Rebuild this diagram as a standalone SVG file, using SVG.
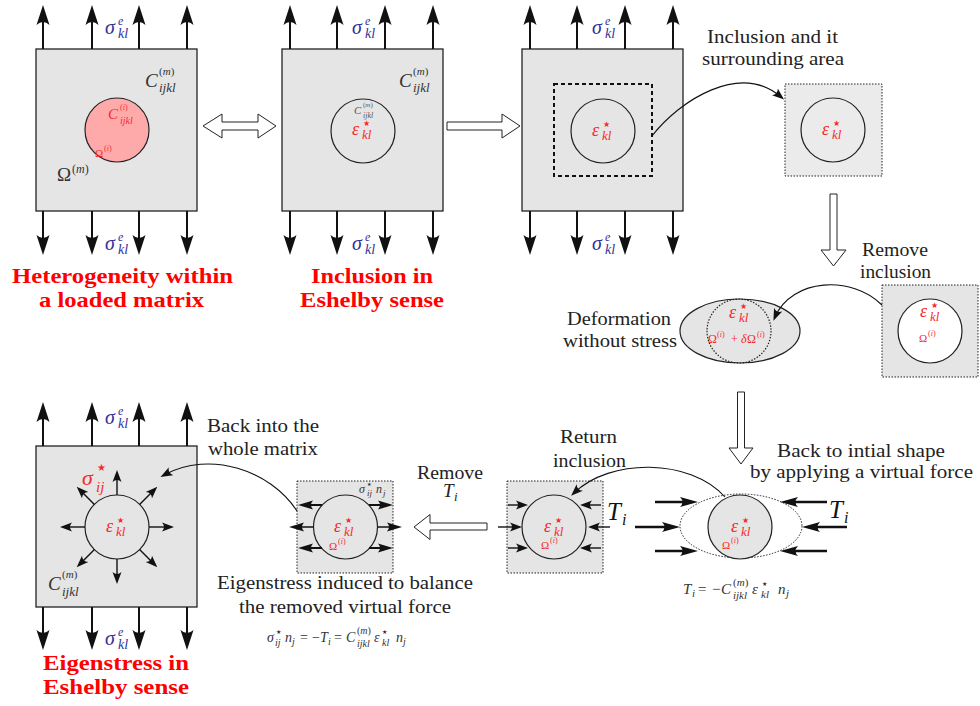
<svg xmlns="http://www.w3.org/2000/svg" width="980" height="706" viewBox="0 0 980 706" font-family="'Liberation Serif','Times New Roman',serif">
<style>
text{font-family:'Liberation Serif','Times New Roman',serif}
.t{fill:#222}
.m{font-style:italic}
.u{font-style:normal}
.r{fill:#f52a2a}
.b{fill:#33339a}
.g{fill:#333}
.g5{fill:#555}
.ttl{font-weight:bold;fill:#ff0000;font-size:21px}
.sq{fill:#e5e5e5;stroke:#222;stroke-width:1.3}
.c{fill:none;stroke:#222;stroke-width:1.2}
.fa{stroke:#111;stroke-width:2;marker-end:url(#fa)}
.ta{stroke:#111;stroke-width:2.5;marker-end:url(#ta)}
.sa{stroke:#111;stroke-width:1.4;marker-end:url(#sa)}
.ea{stroke:#111;stroke-width:2;marker-end:url(#ea)}
.hol{fill:#fff;stroke:#222;stroke-width:1}
.cv{fill:none;stroke:#111;stroke-width:1.1;marker-end:url(#ca)}
.dot{stroke-dasharray:1.5 1.5}
tspan.star{font-family:'DejaVu Sans',sans-serif;font-style:normal}
</style>
<defs>
<marker id="fa" viewBox="0 -7 20 14" refX="12" refY="0" markerWidth="20" markerHeight="14" markerUnits="userSpaceOnUse" orient="auto"><path d="M20,0 L0,-6.5 Q6,0 0,6.5 Z" fill="#111"/></marker>
<marker id="ta" viewBox="0 -6 18 12" refX="10" refY="0" markerWidth="18" markerHeight="12" markerUnits="userSpaceOnUse" orient="auto"><path d="M18,0 L0,-5 Q5,0 0,5 Z" fill="#111"/></marker>
<marker id="ea" viewBox="0 -6 15 12" refX="9" refY="0" markerWidth="15" markerHeight="12" markerUnits="userSpaceOnUse" orient="auto"><path d="M15,0 L0,-4.5 Q4,0 0,4.5 Z" fill="#111"/></marker>
<marker id="sa" viewBox="0 -5 12 10" refX="8" refY="0" markerWidth="12" markerHeight="10" markerUnits="userSpaceOnUse" orient="auto"><path d="M12,0 L0,-4.5 Q4,0 0,4.5 Z" fill="#111"/></marker>
<marker id="ca" viewBox="0 -5 12 10" refX="8" refY="0" markerWidth="12" markerHeight="10" markerUnits="userSpaceOnUse" orient="auto"><path d="M12,0 L0,-4.5 Q4,0 0,4.5 Z" fill="#111"/></marker>
</defs>
<rect width="980" height="706" fill="#fff"/>

<!-- Panel 1 -->
<g id="panel1">
<rect class="sq" x="36" y="49" width="161" height="162"/>
<circle cx="117" cy="130" r="32" fill="#ffaaaa" stroke="#222" stroke-width="1.2"/>
<line class="fa" x1="43" y1="49" x2="43" y2="13"/><line class="fa" x1="92" y1="49" x2="92" y2="13"/><line class="fa" x1="139" y1="49" x2="139" y2="13"/><line class="fa" x1="187" y1="49" x2="187" y2="13"/>
<line class="fa" x1="43" y1="211" x2="43" y2="247"/><line class="fa" x1="92" y1="211" x2="92" y2="247"/><line class="fa" x1="139" y1="211" x2="139" y2="247"/><line class="fa" x1="187" y1="211" x2="187" y2="247"/>
<text class="m b"><tspan x="105" y="34" font-size="20">σ</tspan><tspan x="118" y="25" font-size="12">e</tspan><tspan x="118" y="38" font-size="14">kl</tspan></text>
<text class="m b"><tspan x="105" y="250" font-size="20">σ</tspan><tspan x="118" y="241" font-size="12">e</tspan><tspan x="118" y="254" font-size="14">kl</tspan></text>
<text class="m g"><tspan x="145" y="87" font-size="19">C</tspan><tspan class="u" x="159" y="75" font-size="11">(</tspan><tspan font-size="11">m</tspan><tspan class="u" font-size="11">)</tspan><tspan x="159" y="92" font-size="13">ijkl</tspan></text>
<text class="m r"><tspan x="108" y="119" font-size="15">C</tspan><tspan class="u" x="120" y="110" font-size="8">(</tspan><tspan font-size="8">i</tspan><tspan class="u" font-size="8">)</tspan><tspan x="120" y="124" font-size="10">ijkl</tspan></text>
<text class="t r"><tspan x="95" y="157" font-size="11">Ω</tspan><tspan x="104" y="151" font-size="8">(</tspan><tspan class="m" font-size="8">i</tspan><tspan font-size="8">)</tspan></text>
<text class="t g"><tspan x="57" y="181" font-size="19">Ω</tspan><tspan x="72" y="173" font-size="12">(</tspan><tspan class="m" font-size="12">m</tspan><tspan font-size="12">)</tspan></text>
<text class="ttl" x="12" y="283" textLength="221" lengthAdjust="spacingAndGlyphs">Heterogeneity within</text>
<text class="ttl" x="39" y="307" textLength="165" lengthAdjust="spacingAndGlyphs">a loaded matrix</text>
</g>

<!-- Panel 2 -->
<g id="panel2">
<rect class="sq" x="282" y="49" width="161" height="162"/>
<circle class="c" cx="363" cy="131" r="32"/>
<line class="fa" x1="290" y1="49" x2="290" y2="13"/><line class="fa" x1="337" y1="49" x2="337" y2="13"/><line class="fa" x1="385" y1="49" x2="385" y2="13"/><line class="fa" x1="433" y1="49" x2="433" y2="13"/>
<line class="fa" x1="290" y1="211" x2="290" y2="247"/><line class="fa" x1="337" y1="211" x2="337" y2="247"/><line class="fa" x1="385" y1="211" x2="385" y2="247"/><line class="fa" x1="433" y1="211" x2="433" y2="247"/>
<text class="m b"><tspan x="352" y="34" font-size="20">σ</tspan><tspan x="365" y="25" font-size="12">e</tspan><tspan x="365" y="38" font-size="14">kl</tspan></text>
<text class="m b"><tspan x="352" y="250" font-size="20">σ</tspan><tspan x="365" y="241" font-size="12">e</tspan><tspan x="365" y="254" font-size="14">kl</tspan></text>
<text class="m g"><tspan x="399" y="87" font-size="19">C</tspan><tspan class="u" x="413" y="75" font-size="11">(</tspan><tspan font-size="11">m</tspan><tspan class="u" font-size="11">)</tspan><tspan x="413" y="92" font-size="13">ijkl</tspan></text>
<text class="m g5"><tspan x="354" y="114" font-size="11">C</tspan><tspan class="u" x="363" y="107" font-size="7">(</tspan><tspan font-size="7">m</tspan><tspan class="u" font-size="7">)</tspan><tspan x="363" y="118" font-size="8">ijkl</tspan></text>
<text class="m r"><tspan x="352" y="135" font-size="18">ε</tspan><tspan class="star" x="363" y="126" font-size="8">★</tspan><tspan x="362" y="139" font-size="13">kl</tspan></text>
<text class="ttl" x="311" y="283" textLength="122" lengthAdjust="spacingAndGlyphs">Inclusion in</text>
<text class="ttl" x="300" y="307" textLength="144" lengthAdjust="spacingAndGlyphs">Eshelby sense</text>
</g>

<!-- Panel 3 -->
<g id="panel3">
<rect class="sq" x="522" y="49" width="161" height="162"/>
<rect x="554" y="84" width="98" height="92" fill="none" stroke="#111" stroke-width="2" stroke-dasharray="4 3"/>
<circle class="c" cx="603" cy="131" r="32"/>
<line class="fa" x1="530" y1="49" x2="530" y2="13"/><line class="fa" x1="577" y1="49" x2="577" y2="13"/><line class="fa" x1="625" y1="49" x2="625" y2="13"/><line class="fa" x1="673" y1="49" x2="673" y2="13"/>
<line class="fa" x1="530" y1="211" x2="530" y2="247"/><line class="fa" x1="577" y1="211" x2="577" y2="247"/><line class="fa" x1="625" y1="211" x2="625" y2="247"/><line class="fa" x1="673" y1="211" x2="673" y2="247"/>
<text class="m b"><tspan x="592" y="34" font-size="20">σ</tspan><tspan x="605" y="25" font-size="12">e</tspan><tspan x="605" y="38" font-size="14">kl</tspan></text>
<text class="m b"><tspan x="592" y="250" font-size="20">σ</tspan><tspan x="605" y="241" font-size="12">e</tspan><tspan x="605" y="254" font-size="14">kl</tspan></text>
<text class="m r"><tspan x="592" y="136" font-size="18">ε</tspan><tspan class="star" x="603" y="127" font-size="8">★</tspan><tspan x="602" y="140" font-size="13">kl</tspan></text>
</g>

<!-- Surrounding area box -->
<g id="surround">
<rect class="dot" x="785" y="84" width="97" height="92" fill="#ebebeb" stroke="#222" stroke-width="1"/>
<circle class="c" cx="833" cy="130" r="32"/>
<text class="m r"><tspan x="822" y="135" font-size="18">ε</tspan><tspan class="star" x="833" y="126" font-size="8">★</tspan><tspan x="832" y="139" font-size="13">kl</tspan></text>
<text class="t" x="707" y="43" font-size="18" textLength="131" lengthAdjust="spacingAndGlyphs">Inclusion and it</text>
<text class="t" x="702" y="65" font-size="18" textLength="142" lengthAdjust="spacingAndGlyphs">surrounding area</text>
</g>

<!-- Removed inclusion box -->
<g id="removebox">
<rect class="dot" x="882" y="285" width="96" height="92" fill="#e5e5e5" stroke="#222" stroke-width="1"/>
<circle cx="930" cy="331" r="32" fill="#fff" stroke="#222" stroke-width="1.2"/>
<text class="m r"><tspan x="920" y="317" font-size="18">ε</tspan><tspan class="star" x="931" y="308" font-size="8">★</tspan><tspan x="930" y="321" font-size="13">kl</tspan></text>
<text class="t r"><tspan x="919" y="342" font-size="11">Ω</tspan><tspan x="928" y="336" font-size="8">(</tspan><tspan class="m" font-size="8">i</tspan><tspan font-size="8">)</tspan></text>
<text class="t" x="862" y="256" font-size="18" textLength="66" lengthAdjust="spacingAndGlyphs">Remove</text>
<text class="t" x="860" y="278" font-size="18" textLength="71" lengthAdjust="spacingAndGlyphs">inclusion</text>
</g>

<!-- Deformation without stress -->
<g id="deform">
<ellipse cx="740" cy="331" rx="60" ry="32" fill="#e5e5e5" stroke="#222" stroke-width="1.2"/>
<circle class="c dot" cx="739" cy="331" r="32"/>
<text class="m r"><tspan x="729" y="318" font-size="18">ε</tspan><tspan class="star" x="740" y="309" font-size="8">★</tspan><tspan x="739" y="322" font-size="13">kl</tspan></text>
<text class="t r"><tspan x="708" y="343" font-size="12">Ω</tspan><tspan x="717" y="337" font-size="8">(</tspan><tspan class="m" font-size="8">i</tspan><tspan font-size="8">)</tspan><tspan x="731" y="343" font-size="12">+</tspan><tspan class="m" x="741" y="343" font-size="12">δ</tspan><tspan x="747" y="343" font-size="12">Ω</tspan><tspan x="757" y="337" font-size="8">(</tspan><tspan class="m" font-size="8">i</tspan><tspan font-size="8">)</tspan></text>
<text class="t" x="567" y="325" font-size="18" textLength="104" lengthAdjust="spacingAndGlyphs">Deformation</text>
<text class="t" x="563" y="347" font-size="18" textLength="114" lengthAdjust="spacingAndGlyphs">without stress</text>
</g>

<!-- Virtual force -->
<g id="virtualforce">
<ellipse class="dot" cx="741" cy="526" rx="61" ry="32" fill="#fff" stroke="#222" stroke-width="1"/>
<circle cx="740" cy="527" r="32" fill="#e5e5e5" stroke="#222" stroke-width="1.2"/>
<line class="ta" x1="655" y1="502" x2="690" y2="502"/><line class="ta" x1="635" y1="527" x2="672" y2="527"/><line class="ta" x1="655" y1="551" x2="690" y2="551"/>
<line class="ta" x1="827" y1="502" x2="788" y2="502"/><line class="ta" x1="847" y1="527" x2="810" y2="527"/><line class="ta" x1="827" y1="551" x2="788" y2="551"/>
<text class="m r"><tspan x="731" y="532" font-size="18">ε</tspan><tspan class="star" x="742" y="523" font-size="8">★</tspan><tspan x="741" y="536" font-size="13">kl</tspan></text>
<text class="t r"><tspan x="722" y="549" font-size="11">Ω</tspan><tspan x="731" y="543" font-size="8">(</tspan><tspan class="m" font-size="8">i</tspan><tspan font-size="8">)</tspan></text>
<text class="m" fill="#111"><tspan x="829" y="518" font-size="25">T</tspan><tspan x="844" y="523" font-size="16">i</tspan></text>
<text class="t" x="777" y="457" font-size="18" textLength="168" lengthAdjust="spacingAndGlyphs">Back to intial shape</text>
<text class="t" x="750" y="478" font-size="18" textLength="223" lengthAdjust="spacingAndGlyphs">by applying a virtual force</text>
<text class="m g"><tspan x="683" y="594" font-size="15">T</tspan><tspan x="692" y="597" font-size="11">i</tspan><tspan class="u" x="698" y="594" font-size="15">=</tspan><tspan class="u" x="712" y="594" font-size="15">−</tspan><tspan x="721" y="594" font-size="15">C</tspan><tspan class="u" x="733" y="586" font-size="11">(</tspan><tspan font-size="11">m</tspan><tspan class="u" font-size="11">)</tspan><tspan x="733" y="599" font-size="11">ijkl</tspan><tspan x="752" y="594" font-size="15">ε</tspan><tspan class="star" x="762" y="586" font-size="6">★</tspan><tspan x="761" y="598" font-size="11">kl</tspan><tspan x="778" y="594" font-size="15">n</tspan><tspan x="786" y="597" font-size="11">j</tspan></text>
</g>

<!-- Return inclusion box -->
<g id="returnbox">
<rect class="dot" x="507" y="481" width="96" height="92" fill="#e5e5e5" stroke="#222" stroke-width="1"/>
<circle class="c" cx="554" cy="527" r="32"/>
<line class="sa" x1="508" y1="505" x2="524" y2="505"/><line class="sa" x1="498" y1="527" x2="518" y2="527"/><line class="sa" x1="508" y1="548" x2="524" y2="548"/>
<line class="sa" x1="601" y1="505" x2="584" y2="505"/><line class="sa" x1="610" y1="527" x2="592" y2="527"/><line class="sa" x1="601" y1="548" x2="584" y2="548"/>
<text class="m r"><tspan x="544" y="532" font-size="18">ε</tspan><tspan class="star" x="555" y="523" font-size="8">★</tspan><tspan x="554" y="536" font-size="13">kl</tspan></text>
<text class="t r"><tspan x="541" y="549" font-size="11">Ω</tspan><tspan x="550" y="543" font-size="8">(</tspan><tspan class="m" font-size="8">i</tspan><tspan font-size="8">)</tspan></text>
<text class="m" fill="#111"><tspan x="607" y="520" font-size="25">T</tspan><tspan x="622" y="525" font-size="16">i</tspan></text>
<text class="t" x="560" y="443" font-size="18" textLength="57" lengthAdjust="spacingAndGlyphs">Return</text>
<text class="t" x="553" y="467" font-size="18" textLength="73" lengthAdjust="spacingAndGlyphs">inclusion</text>
</g>

<!-- Eigenstress box -->
<g id="eigenbox">
<rect class="dot" x="297" y="481" width="96" height="92" fill="#e5e5e5" stroke="#222" stroke-width="1"/>
<circle class="c" cx="345.5" cy="527" r="32"/>
<line class="ea" x1="322" y1="505" x2="304" y2="505"/><line class="ea" x1="369" y1="505" x2="387" y2="505"/>
<line class="ea" x1="313" y1="527" x2="295" y2="527" style="stroke-width:1.5"/><line class="ea" x1="378" y1="527" x2="396" y2="527" style="stroke-width:1.5"/>
<line class="ea" x1="322" y1="548" x2="304" y2="548"/><line class="ea" x1="369" y1="548" x2="387" y2="548"/>
<text class="m r"><tspan x="334" y="532" font-size="18">ε</tspan><tspan class="star" x="345" y="523" font-size="8">★</tspan><tspan x="344" y="536" font-size="13">kl</tspan></text>
<text class="t r"><tspan x="329" y="550" font-size="11">Ω</tspan><tspan x="338" y="544" font-size="8">(</tspan><tspan class="m" font-size="8">i</tspan><tspan font-size="8">)</tspan></text>
<text class="m g"><tspan x="359" y="493" font-size="12">σ</tspan><tspan class="star" x="367" y="486" font-size="5">★</tspan><tspan x="367" y="496" font-size="9">ij</tspan><tspan x="376" y="493" font-size="12">n</tspan><tspan x="383" y="496" font-size="9">j</tspan></text>
<text class="t" x="417" y="479" font-size="18" textLength="66" lengthAdjust="spacingAndGlyphs">Remove</text>
<text class="m" fill="#222"><tspan x="443" y="497" font-size="19">T</tspan><tspan x="454" y="501" font-size="13">i</tspan></text>
<text class="t" x="217" y="589" font-size="18" textLength="256" lengthAdjust="spacingAndGlyphs">Eigenstress induced to balance</text>
<text class="t" x="239" y="613" font-size="18" textLength="212" lengthAdjust="spacingAndGlyphs">the removed virtual force</text>
<text class="m g"><tspan x="267" y="642" font-size="14">σ</tspan><tspan class="star" x="276" y="634" font-size="6">★</tspan><tspan x="275" y="646" font-size="10">ij</tspan><tspan x="285" y="642" font-size="14">n</tspan><tspan x="292" y="645" font-size="10">j</tspan><tspan class="u" x="300" y="642" font-size="14">=</tspan><tspan class="u" x="312" y="642" font-size="14">−</tspan><tspan x="320" y="642" font-size="14">T</tspan><tspan x="328" y="645" font-size="10">i</tspan><tspan class="u" x="334" y="642" font-size="14">=</tspan><tspan x="346" y="642" font-size="14">C</tspan><tspan class="u" x="357" y="634" font-size="10">(</tspan><tspan font-size="10">m</tspan><tspan class="u" font-size="10">)</tspan><tspan x="357" y="647" font-size="10">ijkl</tspan><tspan x="374" y="642" font-size="14">ε</tspan><tspan class="star" x="382" y="634" font-size="6">★</tspan><tspan x="382" y="646" font-size="10">kl</tspan><tspan x="396" y="642" font-size="14">n</tspan><tspan x="403" y="645" font-size="10">j</tspan></text>
<text class="t" x="207" y="432" font-size="18" textLength="112" lengthAdjust="spacingAndGlyphs">Back into the</text>
<text class="t" x="208" y="455" font-size="18" textLength="110" lengthAdjust="spacingAndGlyphs">whole matrix</text>
</g>

<!-- Panel 4 -->
<g id="panel4">
<rect class="sq" x="36" y="446" width="161" height="161"/>
<circle class="c" cx="117" cy="527" r="32"/>
<line class="fa" x1="43" y1="446" x2="43" y2="410"/><line class="fa" x1="92" y1="446" x2="92" y2="410"/><line class="fa" x1="139" y1="446" x2="139" y2="410"/><line class="fa" x1="187" y1="446" x2="187" y2="410"/>
<line class="fa" x1="43" y1="607" x2="43" y2="642"/><line class="fa" x1="92" y1="607" x2="92" y2="642"/><line class="fa" x1="139" y1="607" x2="139" y2="642"/><line class="fa" x1="187" y1="607" x2="187" y2="642"/>
<line class="sa" x1="149" y1="527" x2="170" y2="527"/><line class="sa" x1="139.6" y1="549.6" x2="154.5" y2="564.5"/><line class="sa" x1="117" y1="559" x2="117" y2="580"/><line class="sa" x1="94.4" y1="549.6" x2="79.5" y2="564.5"/>
<line class="sa" x1="85" y1="527" x2="64" y2="527"/><line class="sa" x1="94.4" y1="504.4" x2="79.5" y2="489.5"/><line class="sa" x1="117" y1="495" x2="117" y2="474"/><line class="sa" x1="139.6" y1="504.4" x2="154.5" y2="489.5"/>
<text class="m b"><tspan x="105" y="424" font-size="20">σ</tspan><tspan x="118" y="415" font-size="12">e</tspan><tspan x="118" y="428" font-size="14">kl</tspan></text>
<text class="m b"><tspan x="105" y="645" font-size="20">σ</tspan><tspan x="118" y="636" font-size="12">e</tspan><tspan x="118" y="649" font-size="14">kl</tspan></text>
<text class="m r"><tspan x="82" y="485" font-size="22">σ</tspan><tspan class="star" x="97" y="471" font-size="10">★</tspan><tspan x="96" y="492" font-size="15">ij</tspan></text>
<text class="m r"><tspan x="106" y="532" font-size="18">ε</tspan><tspan class="star" x="117" y="523" font-size="8">★</tspan><tspan x="116" y="536" font-size="13">kl</tspan></text>
<text class="m g"><tspan x="48" y="590" font-size="19">C</tspan><tspan class="u" x="62" y="578" font-size="11">(</tspan><tspan font-size="11">m</tspan><tspan class="u" font-size="11">)</tspan><tspan x="62" y="596" font-size="13">ijkl</tspan></text>
<text class="ttl" x="43" y="670" textLength="146" lengthAdjust="spacingAndGlyphs">Eigenstress in</text>
<text class="ttl" x="43" y="694" textLength="146" lengthAdjust="spacingAndGlyphs">Eshelby sense</text>
</g>

<!-- Connectors -->
<g id="connectors">
<polygon class="hol" points="203,126 222,114 222,122 258,122 258,114 276,126 258,138 258,130 222,130 222,138"/>
<polygon class="hol" points="447,122 502,122 502,114 520,126 502,138 502,130 447,130"/>
<polygon class="hol" points="830,194 837,194 837,250 846,250 833.5,266 821,250 830,250"/>
<polygon class="hol" points="737.5,392 744.5,392 744.5,448 753,448 741,464 729,448 737.5,448"/>
<polygon class="hol" points="487,523 430,523 430,514.5 414,527 430,539.5 430,530 487,530"/>
<path class="cv" d="M652,136 C680,100 740,62 781,97"/>
<path class="cv" d="M882,305 C852,275 792,278 775,317"/>
<path class="cv" d="M725,497 C690,458 610,458 574,493"/>
<path class="cv" d="M297,511 C270,470 210,450 164,475"/>
</g>
</svg>
